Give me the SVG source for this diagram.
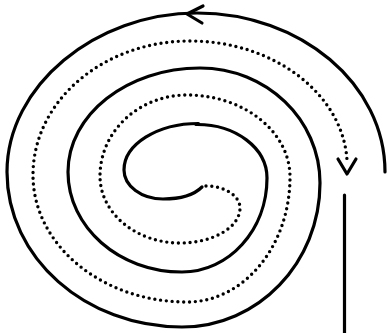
<svg xmlns="http://www.w3.org/2000/svg" width="387" height="333" viewBox="0 0 387 333">
<style>
.solid{fill:none;stroke:#000;stroke-width:3.2;stroke-linecap:round;stroke-linejoin:round}
.dot{fill:none;stroke:#000;stroke-width:3.4;stroke-linecap:round;stroke-dasharray:0 5.8}
</style>
<rect width="387" height="333" fill="#fff"/>
<g id="connectors">
<path id="solid-spiral-a" class="solid" d="M385,172 C385,84.2 300.8,13 197,13 C95,13 7,86 7,172 C7,257.6 85.3,327 182,327 C258.2,327 320,262.5 320,183 C320,119.5 266.3,68 200,68 C127.1,68 68,114.6 68,172 C68,227.2 119,272 182,272 C228.9,272 267,229.9 267,178 C267,148.2 235.7,124 196,124.5"/>
<path id="solid-spiral-b" class="solid" d="M198.5,123.5 C157,123.5 124,144.6 124,170 C124,186 141.5,199 163,199 C180,199 194,195 202,187"/>
<path id="dotted-spiral" class="dot" d="M206,186 C224.8,186 240,195.8 240,208 C240,227.3 213.1,243 180,243 C135.8,243 100,213 100,176 C100,131.3 139,95 187,95 C243.9,95 290,131.7 290,177 C290,246 243.9,302 187,302 C102,302 33,245.1 33,175 C33,101 103.3,41 190,41 C275,41 343,95 347,160"/>
<polyline id="top-arrow" class="solid" points="203,6 187,14 202,23"/>
<polyline id="dotted-arrow" class="solid" points="338,159 347,174 356,159"/>
<line id="exit-line" class="solid" x1="344.5" y1="195" x2="344.5" y2="334"/>
</g>
</svg>
